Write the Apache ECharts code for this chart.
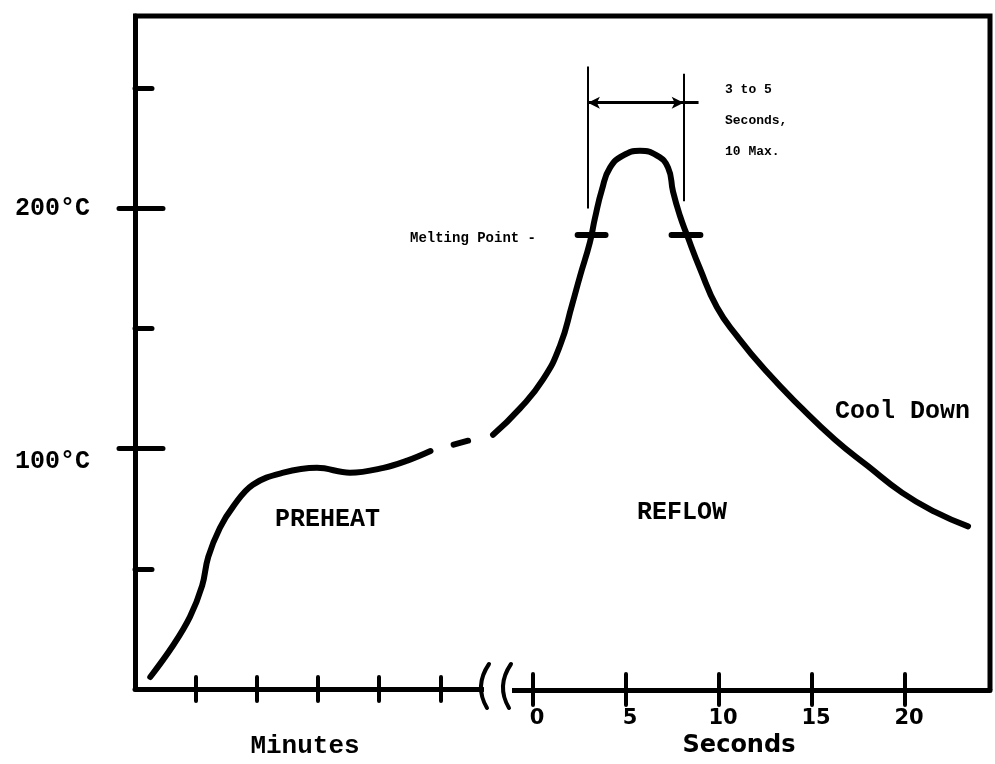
<!DOCTYPE html>
<html>
<head>
<meta charset="utf-8">
<script src="https://cdn.jsdelivr.net/npm/echarts@6/dist/echarts.min.js"></script>
<style>
  html, body { margin: 0; background: #fff; }
  #chart { width: 995px; height: 764px; }
</style>
</head>
<body>
<div id="chart"></div>
<script>
// preheat stage, x in minutes
var preheatMin = [0.25, 0.62, 0.90, 1.10, 1.20, 1.39, 1.61, 1.93, 2.43, 2.98, 3.52, 4.07, 4.46, 4.84];
var preheatTemp = [5, 18, 30, 43, 55, 67, 76, 85, 90, 92, 90, 92, 95, 99];
// dashed part running into the break
var bridgeMin = [4.84, 5.7];
var bridgeTemp = [99, 105];
// reflow + cool down, x in seconds
var reflowSec = [-2.15, -0.70, 0.54, 1.45, 2.10, 2.53, 3.06, 3.33, 3.71, 4.14, 4.84, 5.75, 6.67, 7.26, 7.53, 7.90, 8.28, 8.98, 9.89, 10.97, 12.47, 14.46, 16.24, 18.01, 19.84, 21.61, 23.39];
var reflowTemp = [106, 117, 129, 143, 160, 172, 186, 196, 208, 217, 222, 224, 222, 217, 207, 197, 189, 175, 159, 147, 133, 117, 104, 93, 82, 74, 68];

// melting point marks and the "3 to 5 seconds" window
var meltTemp = 189;
var meltSpans = [[2.4, 3.9], [7.45, 9.0]];
var windowSec = [2.95, 8.1];
var windowTop = [259, 256];
var windowBottom = [200, 203];
var arrowTemp = 244;
var arrowTail = 8.9;

// ticks
var minuteTicks = [1, 2, 3, 4, 5];
var secondTicks = [0, 5, 10, 15, 20];
var tempMinorTicks = [50, 150, 250];
var tempMajorTicks = [100, 200];

function zip(xs, ys) {
  var out = [];
  for (var i = 0; i < xs.length; i++) {
    out.push([xs[i], ys[i]]);
  }
  return out;
}

var chart = echarts.init(document.getElementById('chart'));

var black = '#000';
var mono = '"Liberation Mono", "DejaVu Sans Mono", monospace';
var hand = '"DejaVu Sans", sans-serif';

function tickStyle(w) {
  return { color: black, width: w, cap: 'round' };
}

var option = {
  animation: false,
  backgroundColor: '#fff',
  grid: [
    { left: 135, top: 16, width: 348, bottom: 74 },
    { left: 488, top: 16, right: 5, bottom: 74 }
  ],
  xAxis: [
    {
      gridIndex: 0, type: 'value', min: 0, max: 5.7, position: 'bottom',
      axisLine: { onZero: false, lineStyle: { color: black, width: 5 } },
      axisTick: { customValues: minuteTicks, length: 12, lineStyle: tickStyle(4) },
      axisLabel: { show: false },
      splitLine: { show: false },
      name: 'Minutes', nameLocation: 'middle', nameGap: 44,
      nameTextStyle: { fontFamily: mono, fontWeight: 'bold', fontSize: 26, color: black, padding: [0, 8, 0, 0] }
    },
    {
      gridIndex: 0, type: 'value', min: 0, max: 5.7, position: 'bottom',
      axisLine: { show: false, onZero: false },
      axisTick: { inside: true, customValues: minuteTicks, length: 12, lineStyle: tickStyle(4) },
      axisLabel: { show: false },
      splitLine: { show: false }
    },
    {
      gridIndex: 1, type: 'value', min: -2.42, max: 24.57, position: 'bottom',
      axisLine: { onZero: false, lineStyle: { color: black, width: 5 } },
      axisTick: { customValues: secondTicks, length: 15, lineStyle: tickStyle(4) },
      axisLabel: {
        customValues: secondTicks, margin: 18, padding: [0, 0, 0, 8],
        fontFamily: hand, fontWeight: 'bold', fontSize: 21, color: black
      },
      splitLine: { show: false },
      name: 'Seconds', nameLocation: 'middle', nameGap: 44,
      nameTextStyle: { fontFamily: hand, fontWeight: 'bold', fontSize: 24, color: black }
    },
    {
      gridIndex: 1, type: 'value', min: -2.42, max: 24.57, position: 'bottom',
      axisLine: { show: false, onZero: false },
      axisTick: { inside: true, customValues: secondTicks, length: 16, lineStyle: tickStyle(4) },
      axisLabel: { show: false },
      splitLine: { show: false }
    }
  ],
  yAxis: [
    {
      gridIndex: 0, type: 'value', min: 0, max: 280, position: 'left',
      axisLine: { show: true, onZero: false, lineStyle: { color: black, width: 5 } },
      axisTick: { show: true, customValues: tempMajorTicks, length: 16, lineStyle: tickStyle(5) },
      axisLabel: {
        customValues: tempMajorTicks, margin: 45,
        formatter: function (v) {
          return v === 100 ? '{low|' + v + '°C}' : v + '°C';
        },
        rich: { low: { padding: [26, 0, 0, 0], fontFamily: mono, fontWeight: 'bold', fontSize: 25, color: black } },
        fontFamily: mono, fontWeight: 'bold', fontSize: 25, color: black
      },
      splitLine: { show: false }
    },
    {
      gridIndex: 0, type: 'value', min: 0, max: 280, position: 'left',
      axisLine: { show: false, onZero: false },
      axisTick: { show: true, inside: true, customValues: tempMajorTicks, length: 28, lineStyle: tickStyle(5) },
      axisLabel: { show: false },
      splitLine: { show: false }
    },
    {
      gridIndex: 0, type: 'value', min: 0, max: 280, position: 'left',
      axisLine: { show: false, onZero: false },
      axisTick: { show: true, inside: true, customValues: tempMinorTicks, length: 17, lineStyle: tickStyle(5) },
      axisLabel: { show: false },
      splitLine: { show: false }
    },
    {
      gridIndex: 1, type: 'value', min: 0, max: 280, show: false
    }
  ],
  series: [
    {
      name: 'preheat', type: 'line', xAxisIndex: 0, yAxisIndex: 0,
      data: zip(preheatMin, preheatTemp), smooth: 0.4, symbol: 'none',
      lineStyle: { color: black, width: 6, cap: 'round' }
    },
    {
      name: 'transition', type: 'line', xAxisIndex: 0, yAxisIndex: 0,
      data: zip(bridgeMin, bridgeTemp), symbol: 'none',
      lineStyle: { color: black, width: 6, type: [15, 24], dashOffset: 15, cap: 'round' }
    },
    {
      name: 'reflow', type: 'line', xAxisIndex: 2, yAxisIndex: 3,
      data: zip(reflowSec, reflowTemp), smooth: 0.5, symbol: 'none',
      lineStyle: { color: black, width: 6, cap: 'round' },
      markLine: {
        silent: true, symbol: 'none', label: { show: false },
        lineStyle: { color: black, type: 'solid', width: 2 },
        emphasis: { disabled: true },
        data: [
          [{ coord: [windowSec[0], windowTop[0]] }, { coord: [windowSec[0], windowBottom[0]] }],
          [{ coord: [windowSec[1], windowTop[1]] }, { coord: [windowSec[1], windowBottom[1]] }],
          [
            { coord: [windowSec[0], arrowTemp], symbol: 'arrow', symbolSize: [9, 12], lineStyle: { width: 3 } },
            { coord: [windowSec[1], arrowTemp], symbol: 'arrow', symbolSize: [9, 12] }
          ],
          [{ coord: [windowSec[1], arrowTemp], lineStyle: { width: 3 } }, { coord: [arrowTail, arrowTemp] }],
          [{ coord: [meltSpans[0][0], meltTemp], lineStyle: { width: 6, cap: 'round' } }, { coord: [meltSpans[0][1], meltTemp] }],
          [{ coord: [meltSpans[1][0], meltTemp], lineStyle: { width: 6, cap: 'round' } }, { coord: [meltSpans[1][1], meltTemp] }]
        ]
      }
    }
  ],
  graphic: [
    // top and right side of the frame
    { type: 'polyline', silent: true, shape: { points: [[133, 16], [990, 16], [990, 690]] },
      style: { stroke: black, lineWidth: 5, fill: 'none' } },
    // gap in the bottom axis between the break marks
    { type: 'rect', silent: true, z: 10, shape: { x: 484, y: 684, width: 28, height: 12 },
      style: { fill: '#fff' } },
    // axis break marks
    { type: 'bezierCurve', silent: true, z: 11, shape: { x1: 489, y1: 664, cpx1: 474, cpy1: 686, x2: 487, y2: 708 },
      style: { stroke: black, lineWidth: 4, fill: 'none', lineCap: 'round' } },
    { type: 'bezierCurve', silent: true, z: 11, shape: { x1: 511, y1: 664, cpx1: 496, cpy1: 686, x2: 509, y2: 708 },
      style: { stroke: black, lineWidth: 4, fill: 'none', lineCap: 'round' } },
    { type: 'text', x: 275, y: 520, style: { text: 'PREHEAT', font: 'bold 25px ' + mono, fill: black, verticalAlign: 'middle' } },
    { type: 'text', x: 637, y: 513, style: { text: 'REFLOW', font: 'bold 25px ' + mono, fill: black, verticalAlign: 'middle' } },
    { type: 'text', x: 835, y: 412, style: { text: 'Cool Down', font: 'bold 25px ' + mono, fill: black, verticalAlign: 'middle' } },
    { type: 'text', x: 410, y: 238, style: { text: 'Melting Point -', font: 'bold 14px ' + mono, fill: black, verticalAlign: 'middle' } },
    { type: 'text', x: 725, y: 90, style: { text: '3 to 5', font: 'bold 13px ' + mono, fill: black, verticalAlign: 'middle' } },
    { type: 'text', x: 725, y: 121, style: { text: 'Seconds,', font: 'bold 13px ' + mono, fill: black, verticalAlign: 'middle' } },
    { type: 'text', x: 725, y: 152, style: { text: '10 Max.', font: 'bold 13px ' + mono, fill: black, verticalAlign: 'middle' } }
  ]
};

chart.setOption(option);
</script>
</body>
</html>
